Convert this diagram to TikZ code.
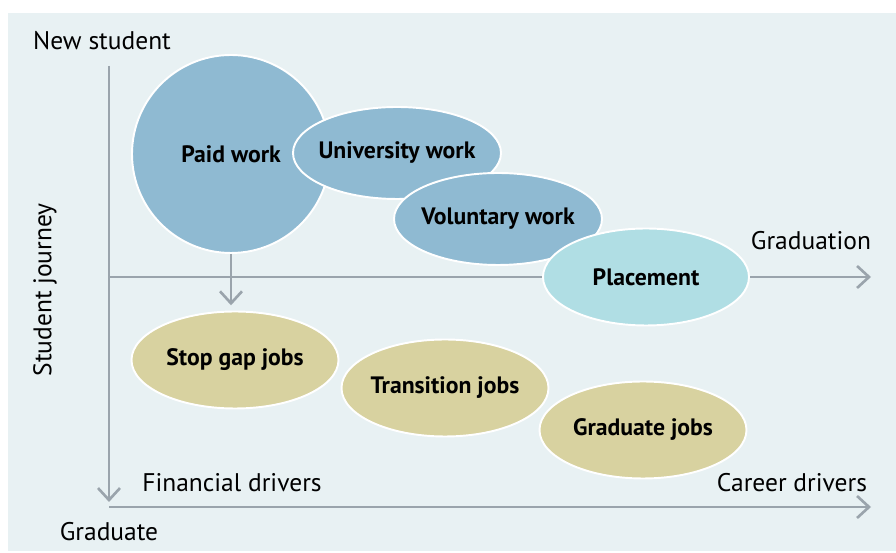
\documentclass[tikz,border=0pt]{standalone}
\usepackage{fontspec}
\setmainfont{PT Sans}
\usetikzlibrary{shapes.geometric,arrows.meta}
\definecolor{panelbg}{HTML}{E8F1F3}
\definecolor{workblue}{HTML}{8FBAD2}
\definecolor{placecyan}{HTML}{B0DEE4}
\definecolor{jobkhaki}{HTML}{D8D2A0}
\definecolor{axisgrey}{HTML}{9AA4AC}
\tikzset{
  axis/.style={axisgrey,line width=1.5pt,-{Straight Barb[length=2.4mm,width=4.4mm]}},
  blob/.style={ellipse,draw=white,line width=1.1pt,inner xsep=-0.6cm,inner ysep=0pt,
    font=\fontsize{13.5}{16}\selectfont\bfseries},
  workblob/.style={blob,fill=workblue,minimum width=4.16cm,minimum height=1.84cm},
  jobblob/.style={blob,fill=jobkhaki,minimum width=4.14cm,minimum height=1.94cm},
  axislabel/.style={font=\fontsize{14.5}{17}\selectfont}
}
\begin{document}
\begin{tikzpicture}
   \useasboundingbox (0,0) rectangle (17.92,11.06);
   \fill [panelbg] (0.16,0.04) rectangle (17.92,10.8);
   \coordinate (journeytop) at (2.18,9.74);
   \coordinate (journeyend) at (2.18,1.02);
   \coordinate (midstart) at (2.18,5.52);
   \coordinate (midend) at (17.42,5.52);
   \coordinate (drivestart) at (2.18,0.92);
   \coordinate (driveend) at (17.42,0.92);
   \draw [axis] (journeytop) -- (journeyend);
   \draw [axis] (midstart) -- (midend);
   \draw [axis] (drivestart) -- (driveend);
   \node [blob,circle,inner sep=0pt,fill=workblue,minimum size=3.96cm] (paid) at (4.62,7.98) {Paid work};
   \node [workblob] (uni) at (7.94,8.0) {University work};
   \node [workblob] (vol) at (9.96,6.68) {Voluntary work};
   \node [blob,fill=placecyan,minimum width=4.12cm,minimum height=1.94cm] (place) at (12.92,5.52) {Placement};
   \node [jobblob] (stop) at (4.70,3.86) {Stop gap jobs};
   \node [jobblob] (trans) at (8.90,3.30) {Transition jobs};
   \node [jobblob] (grad) at (12.86,2.46) {Graduate jobs};
   \draw [axis,shorten >=3pt] (paid) -- (paid.south |- stop.north);
   \node [axislabel] at (2.04,10.24) {New student};
   \node [axislabel] at (16.22,6.24) {Graduation};
   \node [axislabel] at (2.18,0.42) {Graduate};
   \node [axislabel] at (4.64,1.40) {Financial drivers};
   \node [axislabel] at (15.84,1.40) {Career drivers};
   \node [axislabel,rotate=90] at (0.90,5.26) {Student journey};
\end{tikzpicture}
\end{document}
